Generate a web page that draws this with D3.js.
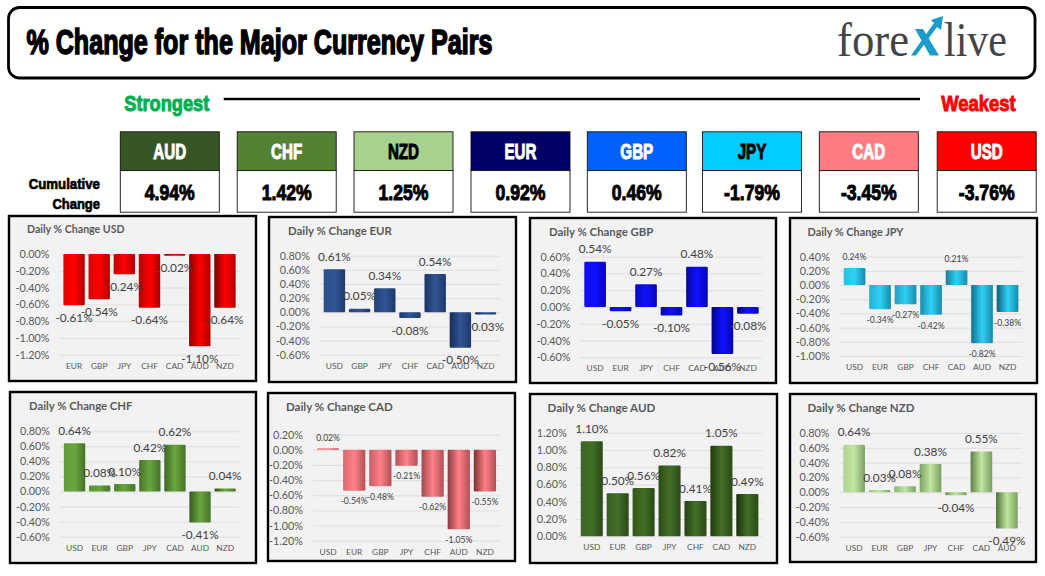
<!DOCTYPE html>
<html>
<head>
<meta charset="utf-8">
<script src="https://d3js.org/d3.v7.min.js"></script>
<style>
  html, body { margin: 0; padding: 0; background: #fff; }
  svg { display: block; }
  .heavy { font-family: "Liberation Sans", sans-serif; font-weight: 700; }
  .thin { font-family: Lato, "Noto Sans", sans-serif; }
</style>
</head>
<body>
<svg id="chart" width="1045" height="576"></svg>
<script>
// cumulative strip
var strengthNames = ["AUD", "CHF", "NZD", "EUR", "GBP", "JPY", "CAD", "USD"];
var strengthValues = [4.94, 1.42, 1.25, 0.92, 0.46, -1.79, -3.45, -3.76];
var strengthFill = ["#375623", "#548235", "#A9D18E", "#000066", "#0061FF", "#00CCFF", "#FF7C80", "#FF0000"];
var strengthInk = ["#fff", "#fff", "#000", "#fff", "#fff", "#000", "#fff", "#fff"];
var strengthLeft = [120.3, 237.2, 354, 471, 587.3, 702.5, 819.3, 937.2];

// daily % change, one pair of lists per panel
var usdCats = ["EUR", "GBP", "JPY", "CHF", "CAD", "AUD", "NZD"];
var usdVals = [-0.61, -0.54, -0.24, -0.64, -0.02, -1.10, -0.64];
var eurCats = ["USD", "GBP", "JPY", "CHF", "CAD", "AUD", "NZD"];
var eurVals = [0.61, 0.05, 0.34, -0.08, 0.54, -0.50, -0.03];
var gbpCats = ["USD", "EUR", "JPY", "CHF", "CAD", "AUD", "NZD"];
var gbpVals = [0.54, -0.05, 0.27, -0.10, 0.48, -0.56, -0.08];
var jpyCats = ["USD", "EUR", "GBP", "CHF", "CAD", "AUD", "NZD"];
var jpyVals = [0.24, -0.34, -0.27, -0.42, 0.21, -0.82, -0.38];
var chfCats = ["USD", "EUR", "GBP", "JPY", "CAD", "AUD", "NZD"];
var chfVals = [0.64, 0.08, 0.10, 0.42, 0.62, -0.41, 0.04];
var cadCats = ["USD", "EUR", "GBP", "JPY", "CHF", "AUD", "NZD"];
var cadVals = [0.02, -0.54, -0.48, -0.21, -0.62, -1.05, -0.55];
var audCats = ["USD", "EUR", "GBP", "JPY", "CHF", "CAD", "NZD"];
var audVals = [1.10, 0.50, 0.56, 0.82, 0.41, 1.05, 0.49];
var nzdCats = ["USD", "EUR", "GBP", "JPY", "CHF", "CAD", "AUD"];
var nzdVals = [0.64, 0.03, 0.08, 0.38, -0.04, 0.55, -0.49];

var panels = [
  { name: "USD", cats: usdCats, vals: usdVals, max: 0, min: -1.2, color: "#FF0000", dark: "#7a0000", frame: [9, 216, 256, 381], top: 254, bot: 354.7, left: 61.5, right: 237.5, lab: 11.8, labGap: 12.5, titleX: 27, titleY: 232.5, titleSize: 10.6 },
  { name: "EUR", cats: eurCats, vals: eurVals, max: 0.8, min: -0.6, color: "#2F5597", dark: "#14264a", frame: [269, 217, 516, 382], top: 255.7, bot: 354.7, left: 321.8, right: 498.2, lab: 11.8, labGap: 12.5, titleX: 288, titleY: 235, titleSize: 11.4 },
  { name: "GBP", cats: gbpCats, vals: gbpVals, max: 0.6, min: -0.6, color: "#1010FF", dark: "#00007a", frame: [530, 218, 776, 383], top: 256.7, bot: 357.3, left: 582.4, right: 760.6, lab: 11.8, labGap: 12.5, titleX: 549, titleY: 236, titleSize: 11.4 },
  { name: "JPY", cats: jpyCats, vals: jpyVals, max: 0.4, min: -1, color: "#2FD0F5", dark: "#0b5c78", frame: [790, 218, 1037, 383], top: 256.7, bot: 356, left: 841.8, right: 1020.3, lab: 8.6, labGap: 11, titleX: 807.5, titleY: 236, titleSize: 10.9 },
  { name: "CHF", cats: chfCats, vals: chfVals, max: 0.8, min: -0.6, color: "#6AA63F", dark: "#2e4f18", frame: [10, 392, 256, 563], top: 431.3, bot: 536.7, left: 62, right: 237.7, lab: 11.8, labGap: 12.5, titleX: 29, titleY: 410, titleSize: 11.3 },
  { name: "CAD", cats: cadCats, vals: cadVals, max: 0.2, min: -1.2, color: "#FF8088", dark: "#7d3035", frame: [268, 393, 515, 561], top: 434.7, bot: 540.7, left: 315, right: 498, lab: 8.6, labGap: 10.5, titleX: 286, titleY: 411, titleSize: 11.5 },
  { name: "AUD", cats: audCats, vals: audVals, max: 1.2, min: 0, color: "#426F28", dark: "#1b3009", frame: [530, 394, 777, 563], top: 432.7, bot: 536.3, left: 578.8, right: 760.3, lab: 11.8, labGap: 12.5, titleX: 547.5, titleY: 412, titleSize: 11.6 },
  { name: "NZD", cats: nzdCats, vals: nzdVals, max: 0.8, min: -0.6, color: "#C0E6A0", dark: "#4e7038", frame: [790, 394, 1036, 562], top: 433, bot: 536.7, left: 841.4, right: 1019.6, lab: 11.8, labGap: 12.5, titleX: 807.5, titleY: 412, titleSize: 11.5 }
];

var svg = d3.select("#chart");
var defs = svg.append("defs");
function pct(v) { return (Math.abs(v) < 1e-9 ? 0 : v).toFixed(2) + "%"; }

// no Impact on the box, so squeeze bold Liberation Sans and thicken it
function heavyText(x, y, txt, size, fill, anchor, squeeze, width) {
  var t = svg.append("text")
    .attr("class", "heavy")
    .attr("x", x).attr("y", y)
    .attr("font-size", size)
    .attr("fill", fill)
    .attr("stroke", fill)
    .attr("stroke-width", size * 0.045)
    .attr("text-anchor", anchor)
    .text(txt);
  var len = width || t.node().getComputedTextLength() * squeeze;
  t.attr("textLength", len).attr("lengthAdjust", "spacingAndGlyphs");
  return t;
}

function drawHeader() {
  svg.append("rect")
    .attr("x", 8.5).attr("y", 7.5).attr("width", 1026.5).attr("height", 70.5).attr("rx", 11)
    .attr("fill", "#fff").attr("stroke", "#000").attr("stroke-width", 2.8);
  heavyText(26.4, 54, "% Change for the Major Currency Pairs", 34.5, "#000", "start", 1, 466);

  // forexlive logo
  var logo = svg.append("g").attr("font-family", "Liberation Serif, serif").attr("fill", "#454545").attr("font-size", 48);
  logo.append("text").attr("x", 837).attr("y", 55.5).attr("textLength", 72).attr("lengthAdjust", "spacingAndGlyphs").text("fore");
  logo.append("text").attr("x", 944).attr("y", 55.5).attr("textLength", 63).attr("lengthAdjust", "spacingAndGlyphs").text("live");
  var mark = svg.append("g").attr("fill", "#1B9BCB");
  mark.append("path").attr("d", "M915 29 L923 29 L939 55.5 L930 55.5 Z");
  mark.append("path").attr("d", "M911 55.5 L916 55.5 L937 27 L941 30 L943 16 L931 20 L934 23 Z");

  heavyText(124.3, 110.5, "Strongest", 22.3, "#00B050", "start", 1, 85);
  heavyText(941.2, 110.5, "Weakest", 22.3, "#FF0000", "start", 1, 74.4);
  svg.append("line").attr("x1", 223.7).attr("x2", 920).attr("y1", 99).attr("y2", 99)
    .attr("stroke", "#000").attr("stroke-width", 2.6);

  heavyText(100, 189.2, "Cumulative", 15.2, "#000", "end", 1, 71.3);
  heavyText(100, 208.5, "Change", 15.2, "#000", "end", 1, 47.6);
}

function drawStrip() {
  strengthNames.forEach(function (nm, i) {
    var x = strengthLeft[i], w = 99;
    svg.append("rect").attr("x", x).attr("y", 131.8).attr("width", w).attr("height", 38.8)
      .attr("fill", strengthFill[i]).attr("stroke", "#111").attr("stroke-width", 0.9);
    svg.append("rect").attr("x", x).attr("y", 170.6).attr("width", w).attr("height", 41.6)
      .attr("fill", "#fff").attr("stroke", "#111").attr("stroke-width", 0.9);
    heavyText(x + w / 2, 159.3, nm, 22.3, strengthInk[i], "middle", 0.68);
    heavyText(x + w / 2, 200, pct(strengthValues[i]), 22.3, "#000", "middle", 0.79);
  });
}

// lighter centre, shaded sides, sides get darker towards the right of the panel
function barGradient(p, i) {
  var id = "g" + p.name + i;
  var t = i / (p.vals.length - 1);
  var g = defs.append("linearGradient").attr("id", id);
  var side = d3.interpolateRgb(p.color, p.dark);
  g.append("stop").attr("offset", "0%").attr("stop-color", side(0.15 + 0.85 * t));
  g.append("stop").attr("offset", "50%").attr("stop-color", p.color);
  g.append("stop").attr("offset", "100%").attr("stop-color", side(0.6));
  return "url(#" + id + ")";
}

function drawPanel(p) {
  var f = p.frame;
  svg.append("rect")
    .attr("x", f[0]).attr("y", f[1]).attr("width", f[2] - f[0]).attr("height", f[3] - f[1])
    .attr("fill", "#F2F2F2").attr("stroke", "#000").attr("stroke-width", 2.4);

  svg.append("text")
    .attr("class", "thin")
    .attr("x", p.titleX).attr("y", p.titleY)
    .attr("font-size", p.titleSize).attr("font-weight", 700).attr("fill", "#595959")
    .text("Daily % Change " + p.name);

  var x = d3.scaleBand().domain(p.cats).range([p.left, p.right]).paddingInner(0.15).paddingOuter(0.075);
  var y = d3.scaleLinear().domain([p.min, p.max]).range([p.bot, p.top]);
  var ticks = d3.range(Math.round((p.max - p.min) / 0.2) + 1).map(function (k) { return p.min + k * 0.2; });

  var yAxis = d3.axisLeft(y)
    .tickValues(ticks)
    .tickSize(-(p.right - p.left + 4))
    .tickPadding(10)
    .tickFormat(pct);
  var yg = svg.append("g").attr("transform", "translate(" + (p.left - 2) + ",0)").call(yAxis);
  yg.select(".domain").remove();
  yg.selectAll("line").attr("stroke", "#D9D9D9").attr("stroke-width", 0.8);
  yg.selectAll("text").attr("class", "thin").attr("font-size", 10.8).attr("fill", "#595959");

  var xAxis = d3.axisBottom(x).tickSize(0).tickPadding(8);
  var xg = svg.append("g").attr("transform", "translate(0," + p.bot + ")").call(xAxis);
  xg.select(".domain").remove();
  xg.selectAll("text").attr("class", "thin").attr("font-size", 8.4).attr("fill", "#595959");

  var data = p.vals.map(function (v, i) { return { cat: p.cats[i], val: v, i: i }; });

  svg.append("g").selectAll("rect").data(data).join("rect")
    .attr("x", function (d) { return x(d.cat); })
    .attr("width", x.bandwidth())
    .attr("y", function (d) { return y(Math.max(0, d.val)); })
    .attr("height", function (d) { return Math.abs(y(d.val) - y(0)); })
    .attr("rx", 1.2)
    .attr("fill", function (d) { return barGradient(p, d.i); });

  svg.append("g").selectAll("text").data(data).join("text")
    .attr("class", "thin")
    .attr("x", function (d) { return x(d.cat) + x.bandwidth() / 2; })
    .attr("y", function (d) { return y(d.val) + (d.val < 0 ? p.labGap : -p.labGap); })
    .attr("dy", "0.35em")
    .attr("text-anchor", "middle")
    .attr("font-size", p.lab)
    .attr("fill", "#404040")
    .text(function (d) { return pct(d.val); });
}

drawHeader();
drawStrip();
panels.forEach(drawPanel);
</script>
</body>
</html>
